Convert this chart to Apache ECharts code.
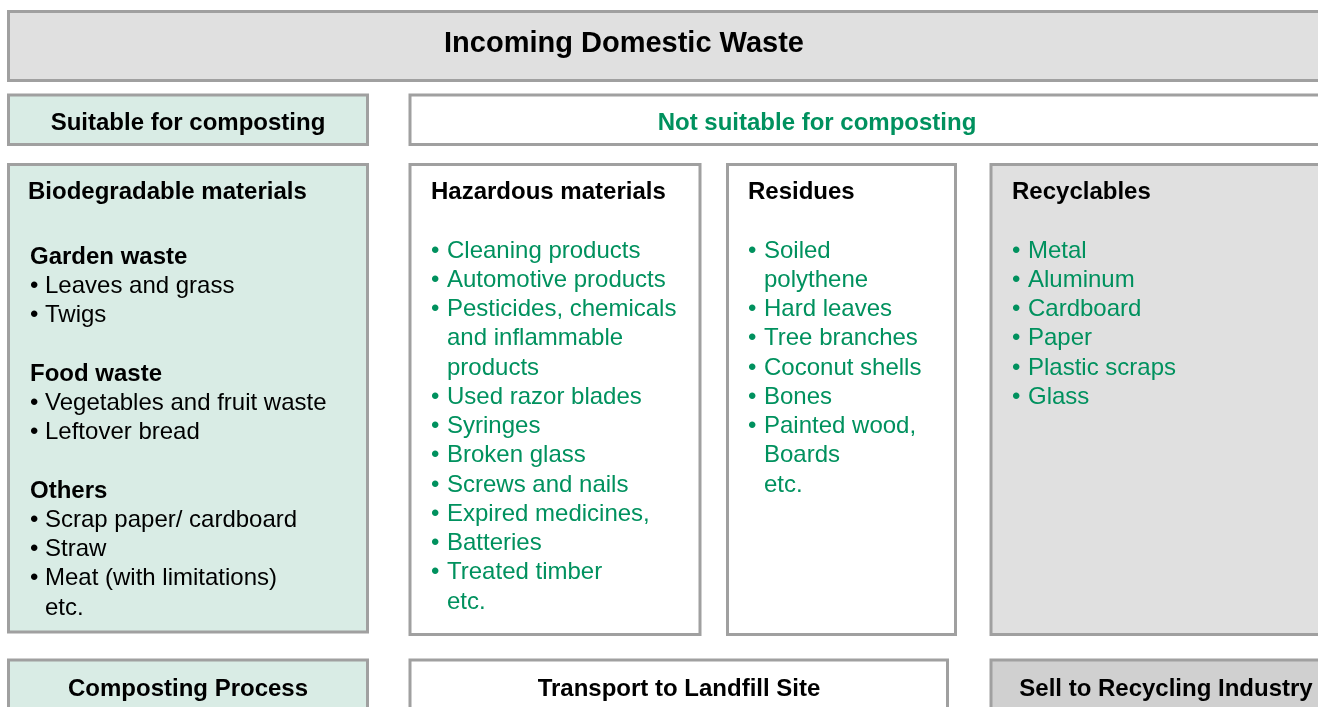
<!DOCTYPE html>
<html>
<head>
<meta charset="utf-8">
<script src="https://cdn.jsdelivr.net/npm/echarts@6/dist/echarts.min.js"></script>
<style>
html,body{margin:0;padding:0;background:#fff;}
#chart{width:1318px;height:707px;}
</style>
</head>
<body>
<div id="chart"></div>
<script>
// ---- content ----
const titleText = "Incoming Domestic Waste";
const suitableText = "Suitable for composting";
const notSuitableText = "Not suitable for composting";
const bottomLabels = ["Composting Process", "Transport to Landfill Site", "Sell to Recycling Industry"];
const columnHeadings = ["Biodegradable materials", "Hazardous materials", "Residues", "Recyclables"];
const gardenItems = ["Leaves and grass", "Twigs"];
const foodItems = ["Vegetables and fruit waste", "Leftover bread"];
const otherItems = ["Scrap paper/ cardboard", "Straw", "Meat (with limitations)"];
const bioGroups = ["Garden waste", "Food waste", "Others"];
const hazardousItems = ["Cleaning products", "Automotive products", "Pesticides, chemicals|and inflammable|products", "Used razor blades", "Syringes", "Broken glass", "Screws and nails", "Expired medicines,", "Batteries", "Treated timber"];
const residueItems = ["Soiled|polythene", "Hard leaves", "Tree branches", "Coconut shells", "Bones", "Painted wood,|Boards"];
const recyclableItems = ["Metal", "Aluminum", "Cardboard", "Paper", "Plastic scraps", "Glass"];
const etcText = "etc.";

// ---- styling / layout ----
const FONT = '"Liberation Sans", Arial, Helvetica, sans-serif';
const GREEN = '#00915e';
const BORDER = '#a0a0a0';
const LINE = 29.25;
const DY = 2;
const elements = [];

function box(x, y, w, h, fill) {
  elements.push({type:'rect', shape:{x:x, y:y, width:w, height:h},
    style:{fill:fill, stroke:BORDER, lineWidth:3}});
}
function txt(x, y, s, opts) {
  opts = opts || {};
  elements.push({type:'text', x:x, y:y + DY, style:{
    text:s, fill:opts.color || '#000', align:opts.align || 'left', verticalAlign:'middle',
    font:(opts.bold ? 'bold ' : '') + (opts.size || 24) + 'px ' + FONT}});
}
// list of bullet items; returns next line index
function bulletList(items, bx, tx, y0, startLine, color) {
  let line = startLine;
  items.forEach(function(it){
    const parts = it.split('|');
    txt(bx, y0 + line*LINE, '\u2022', {color:color});
    parts.forEach(function(p){
      txt(tx, y0 + line*LINE, p, {color:color});
      line++;
    });
  });
  return line;
}

// boxes
box(8.5, 11.5, 1340, 69, '#e0e0e0');
box(8.5, 95, 359, 49.5, '#d9ece5');
box(410, 95, 950, 49.5, '#ffffff');
box(8.5, 164.5, 359, 467.5, '#d9ece5');
box(410, 164.5, 290, 470, '#ffffff');
box(727.5, 164.5, 228, 470, '#ffffff');
box(991, 164.5, 400, 470, '#e0e0e0');
box(8.5, 660, 359, 100, '#d9ece5');
box(410, 660, 537.5, 100, '#ffffff');
box(991, 660, 400, 100, '#d0d0d0');

// header texts
txt(624, 42, titleText, {bold:true, size:29, align:'center'});
txt(188, 121, suitableText, {bold:true, align:'center'});
txt(817, 121, notSuitableText, {bold:true, align:'center', color:GREEN});

// column headings
const headX = [28, 431, 748, 1012];
columnHeadings.forEach(function(h, i){ txt(headX[i], 190, h, {bold:true}); });

// biodegradable column
let l = 0;
const by0 = 255;
txt(30, by0 + l*LINE, bioGroups[0], {bold:true}); l++;
l = bulletList(gardenItems, 30, 45, by0, l, '#000'); l++;
txt(30, by0 + l*LINE, bioGroups[1], {bold:true}); l++;
l = bulletList(foodItems, 30, 45, by0, l, '#000'); l++;
txt(30, by0 + l*LINE, bioGroups[2], {bold:true}); l++;
l = bulletList(otherItems, 30, 45, by0, l, '#000');
txt(45, by0 + l*LINE, etcText);

// hazardous column
l = bulletList(hazardousItems, 431, 447, 249, 0, GREEN);
txt(447, 249 + l*LINE, etcText, {color:GREEN});

// residues column
l = bulletList(residueItems, 748, 764, 249, 0, GREEN);
txt(764, 249 + l*LINE, etcText, {color:GREEN});

// recyclables column
bulletList(recyclableItems, 1012, 1028, 249, 0, GREEN);

// bottom row
txt(188, 687, bottomLabels[0], {bold:true, align:'center'});
txt(679, 687, bottomLabels[1], {bold:true, align:'center'});
txt(1166, 687, bottomLabels[2], {bold:true, align:'center'});

const chart = echarts.init(document.getElementById('chart'), null, {renderer:'canvas'});
chart.setOption({
  animation:false,
  backgroundColor:'#ffffff',
  graphic:{elements:elements}
});
</script>
</body>
</html>
